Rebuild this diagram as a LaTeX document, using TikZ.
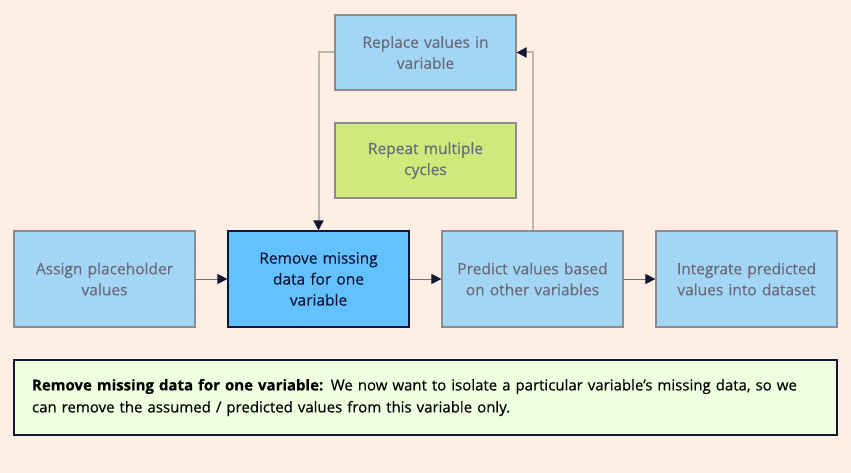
\documentclass[tikz,border=0pt]{standalone}
\usepackage{fontspec}
\setmainfont{Open Sans}[FakeBold=0.35]
\usetikzlibrary{arrows.meta,positioning}
\definecolor{bg}{HTML}{FEEEE4}
\definecolor{lblue}{HTML}{A3D5F5}
\definecolor{mblue}{HTML}{63C1FF}
\definecolor{lgreen}{HTML}{D1E87A}
\definecolor{pale}{HTML}{F1FFE1}
\definecolor{gborder}{HTML}{8C8C8C}
\definecolor{gtext}{HTML}{6A6A7A}
\definecolor{dark}{HTML}{141433}
\definecolor{loopline}{HTML}{BDB3AB}
\definecolor{hline}{HTML}{6E6E78}
\begin{document}
\begin{tikzpicture}[x=1pt,y=-1pt,
  box/.style={draw=gborder,line width=1.2pt,fill=lblue,minimum width=181pt,minimum height=96pt,text width=170pt,align=center,inner sep=0pt,font=\fontsize{15.5}{21}\selectfont\color{gtext}},
  smallbox/.style={box,minimum height=75pt},
  active/.style={box,fill=mblue,draw=dark,font=\fontsize{15.5}{21}\selectfont\color{dark}},
  flow/.style={draw=hline,line width=1pt,-{Triangle[length=10pt,width=10pt,color=dark]}},
  loop/.style={draw=loopline,line width=2pt,-{Triangle[length=10pt,width=10pt,color=dark]}},
  note/.style={draw=dark,line width=1.2pt,fill=pale,minimum width=823pt,minimum height=75pt,text width=787pt,align=left,inner sep=0pt,font=\fontsize{15}{22}\selectfont\color{black}}
]
\fill[bg] (0,0) rectangle (851,473);
\useasboundingbox (0,0) rectangle (851,473);
\node[smallbox] (replace) at (425.5,52.5) {Replace values in\\variable};
\node[smallbox,fill=lgreen] (repeat) at (425.5,160.5) {Repeat multiple\\cycles};
\node[box] (assign) at (104.5,279) {Assign placeholder\\values};
\node[active] (remove) at (318.5,279) {Remove missing\\data for one\\variable};
\node[box] (predict) at (532.5,279) {Predict values based\\on other variables};
\node[box] (integrate) at (746.5,279) {Integrate predicted\\values into dataset};
\node[note] (info) at (425.5,397.5) {\textbf{Remove missing data for one variable:} We now want to isolate a particular variable's missing data, so we\\can remove the assumed / predicted values from this variable only.};
\draw[flow] (assign) -- (remove);
\draw[flow] (remove) -- (predict);
\draw[flow] (predict) -- (integrate);
\draw[loop] (replace.west) -| (remove.north);
\draw[loop] (predict.north) |- (replace.east);
\end{tikzpicture}
\end{document}
